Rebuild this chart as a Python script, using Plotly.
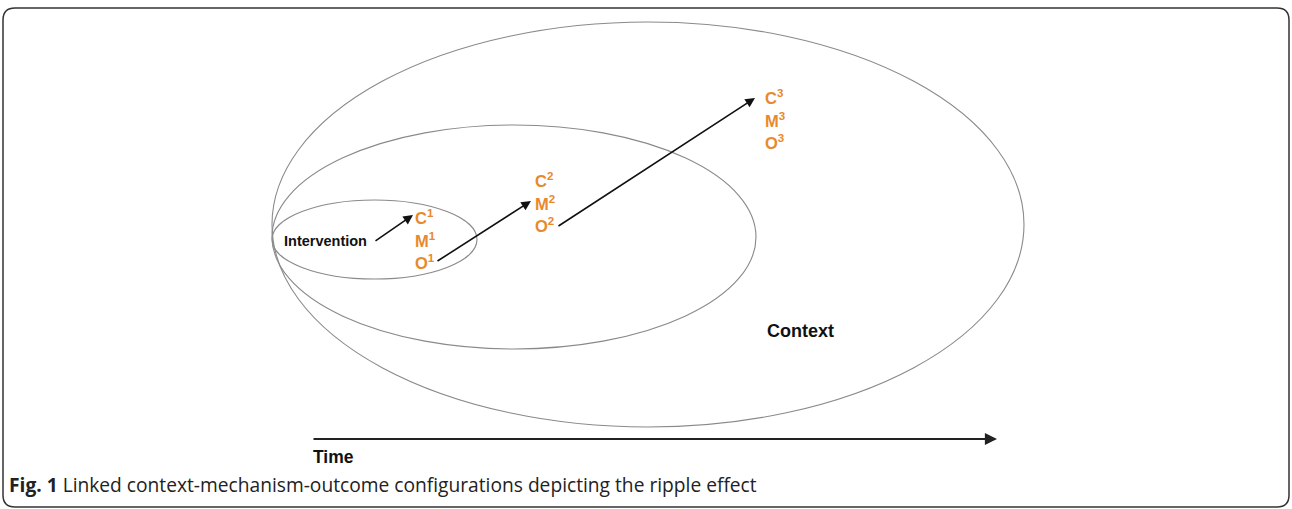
import plotly.graph_objects as go

# ---- content (data) ----
stages = [1, 2, 3]
cmo_letters = ["C", "M", "O"]
start_label = "Intervention"
context_label = "Context"
time_label = "Time"
caption_bold = "Fig. 1"
caption_rest = " Linked context-mechanism-outcome configurations depicting the ripple effect"

# ---- layout constants (page pixel space) ----
W, H = 1292, 509
ORANGE = "#E8892B"
GRAY = "#8a8a8a"
FONT = "Liberation Sans, Arial, sans-serif"

# ellipses: (x0, x1, y0, y1)
ellipses = [
    (272, 1024, 22, 427),   # context
    (272, 756, 125, 349),   # stage 2
    (272, 477, 200, 279),   # stage 1
]
# label column anchor per stage: (x_left, y_C)
cmo_pos = [(413, 217), (533, 180), (763, 97)]
line_gap = 22.5

fig = go.Figure()
fig.add_trace(go.Scatter(x=[0, W], y=[0, H], mode="markers",
                         marker=dict(opacity=0), hoverinfo="skip", showlegend=False))

shapes = []
# rounded frame
r = 12
x0, x1, y0, y1 = 3, 1289, 8, 507
path = (f"M {x0+r},{y0} L {x1-r},{y0} Q {x1},{y0} {x1},{y0+r} "
        f"L {x1},{y1-r} Q {x1},{y1} {x1-r},{y1} L {x0+r},{y1} "
        f"Q {x0},{y1} {x0},{y1-r} L {x0},{y0+r} Q {x0},{y0} {x0+r},{y0} Z")
shapes.append(dict(type="path", path=path, xref="x", yref="y",
                   line=dict(color="#333333", width=1.5)))
for (a, b, c, d) in ellipses:
    shapes.append(dict(type="circle", xref="x", yref="y", x0=a, x1=b, y0=c, y1=d,
                       line=dict(color=GRAY, width=1.1)))

ann = []
# CMO labels
for (xl, yc), s in zip(cmo_pos, stages):
    for i, L in enumerate(cmo_letters):
        ann.append(dict(x=xl, y=yc + i * line_gap, xref="x", yref="y",
                        text=f"<b>{L}<sup>{s}</sup></b>", showarrow=False,
                        xanchor="left", yanchor="middle",
                        font=dict(family=FONT, size=16.5, color=ORANGE)))

ann.append(dict(x=282, y=241, xref="x", yref="y", text=f"<b>{start_label}</b>",
                showarrow=False, xanchor="left", yanchor="middle",
                font=dict(family=FONT, size=14.5, color="#111")))
ann.append(dict(x=765, y=331, xref="x", yref="y", text=f"<b>{context_label}</b>",
                showarrow=False, xanchor="left", yanchor="middle",
                font=dict(family=FONT, size=18, color="#111")))
ann.append(dict(x=311, y=457, xref="x", yref="y", text=f"<b>{time_label}</b>",
                showarrow=False, xanchor="left", yanchor="middle",
                font=dict(family=FONT, size=17.5, color="#111")))
ann.append(dict(x=7, y=484, xref="x", yref="y",
                text=f"<b>{caption_bold}</b>{caption_rest}",
                showarrow=False, xanchor="left", yanchor="middle",
                font=dict(family="Open Sans, sans-serif", size=19.2, color="#222")))

# arrows: (tail, head)
arrows = [((374, 242), (413, 215)),
          ((436, 262), (531, 201)),
          ((557, 227), (755, 98))]
for (tx, ty), (hx, hy) in arrows:
    ann.append(dict(x=hx, y=hy, ax=tx, ay=ty, xref="x", yref="y", axref="x", ayref="y",
                    text="", showarrow=True, arrowhead=2, arrowsize=1.2, arrowwidth=1.6,
                    arrowcolor="#111", standoff=0))
# time arrow
ann.append(dict(x=997, y=439, ax=312, ay=439, xref="x", yref="y", axref="x", ayref="y",
                text="", showarrow=True, arrowhead=2, arrowsize=1.1, arrowwidth=2.2,
                arrowcolor="#222", standoff=0))

fig.update_layout(
    width=W, height=H, margin=dict(l=0, r=0, t=0, b=0),
    paper_bgcolor="white", plot_bgcolor="white",
    xaxis=dict(range=[0, W], visible=False, fixedrange=True),
    yaxis=dict(range=[H, 0], visible=False, fixedrange=True),
    shapes=shapes, annotations=ann, showlegend=False,
)
fig.write_html(
    "out.html",
    config={"displayModeBar": False},
    post_script="document.body.style.margin='0';document.documentElement.style.overflow='hidden';",
)
